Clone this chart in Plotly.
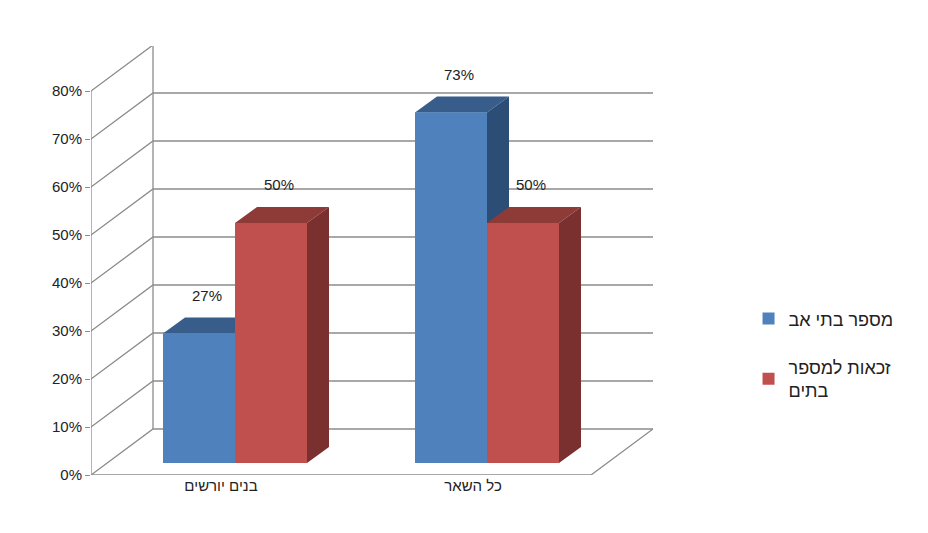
import plotly.graph_objects as go

# data
categories = ["בנים יורשים", "כל השאר"]
series_names = ["מספר בתי אב", "זכאות למספר<br>בתים"]
blue_values = [27, 73]
red_values = [50, 50]
tick_values = [0, 10, 20, 30, 40, 50, 60, 70, 80]

# pseudo-3D geometry (x in px units, y in percent)
PX = 4.8            # px per percent
X0, X1 = 83, 583    # front floor
DX, DY = 62, 46 / PX  # wall depth
BX, BY = 13, 12 / PX  # bar front-face offset
BDX, BDY = 22, 16 / PX  # bar depth
W = 72
centers = [[178, 250], [430, 502]]
fronts = ["#4F81BD", "#C0504D"]
tops = ["#385D8A", "#8E3B38"]
sides = ["#2C4D75", "#7A302E"]
grid = "#8C8C8C"

fig = go.Figure()

def line(xs, ys, color=grid, w=1.3):
    fig.add_trace(go.Scatter(x=xs, y=ys, mode="lines", line=dict(color=color, width=w),
                             showlegend=False, hoverinfo="skip"))

def poly(xs, ys, color):
    fig.add_trace(go.Scatter(x=xs, y=ys, fill="toself", fillcolor=color, mode="none",
                             showlegend=False, hoverinfo="skip"))

for v in tick_values:
    line([X0, X0 + DX, 645], [v, v + DY, v + DY])
line([X0, X0], [0, 80])
line([X0 + DX, X0 + DX], [DY, 80 + DY])
line([X0, X1, X1 + DX], [0, 0, DY])

for s, vals in enumerate([blue_values, red_values]):
    xs = [c[s] + BX for c in centers]
    # legend entries
    fig.add_trace(go.Bar(x=xs, y=vals, base=BY, width=W, name=series_names[s],
                         legendgroup=str(s), marker=dict(color=fronts[s], line=dict(width=0))))
    for x, v in zip(xs, vals):
        top = v + BY
        l, r = x - W / 2, x + W / 2
        poly([l, r, r + BDX, l + BDX, l], [top, top, top + BDY, top + BDY, top], tops[s])
        poly([r, r + BDX, r + BDX, r, r], [BY, BY + BDY, top + BDY, top, BY], sides[s])
        poly([l, r, r, l, l], [BY, BY, top, top, BY], fronts[s])
        fig.add_annotation(x=x + 8, y=v + 10.5, text=f"{v}%", showarrow=False,
                           font=dict(size=15, color="#222"))

fig.update_layout(
    width=928, height=533,
    margin=dict(l=83, r=283, t=38, b=66),
    plot_bgcolor="white", paper_bgcolor="white",
    font=dict(family="Liberation Sans, Arial", size=15, color="#222"),
    barmode="overlay",
    xaxis=dict(range=[83, 645], showgrid=False, zeroline=False, showline=False, automargin=False,
               tickvals=[213, 465], ticktext=categories, ticks="", tickfont=dict(size=15)),
    yaxis=dict(range=[0, 429 / PX], showgrid=False, zeroline=False, automargin=False,
               tickvals=tick_values, ticktext=[f"{v}%" for v in tick_values],
               ticks="outside", ticklen=5, tickcolor=grid, tickfont=dict(size=15)),
    legend=dict(x=1.17, y=0.28, yanchor="middle", xanchor="left", font=dict(size=18),
                itemsizing="constant", tracegroupgap=22),
)
fig.write_html("out.html")
